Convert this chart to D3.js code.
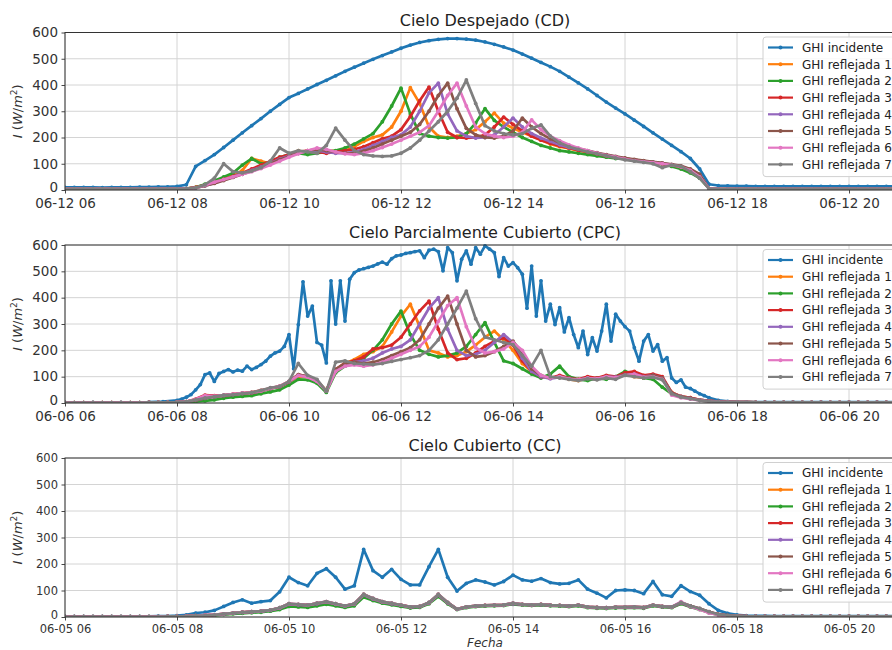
<!DOCTYPE html>
<html>
<head>
<meta charset="utf-8">
<script src="https://cdn.jsdelivr.net/npm/d3@7"></script>
<style>
  html, body { margin: 0; padding: 0; background: #fff; }
  svg { display: block; font-family: "DejaVu Sans", sans-serif; }
</style>
</head>
<body>
<svg id="chart" width="892" height="650"></svg>
<script>
// ---------------- DATA ----------------
const TITLES = ["Cielo Despejado (CD)", "Cielo Parcialmente Cubierto (CPC)", "Cielo Cubierto (CC)"];
const DATES = ["2022-06-12", "2022-06-06", "2022-06-05"];
const SERIES_NAMES = ["GHI incidente", "GHI reflejada 1", "GHI reflejada 2", "GHI reflejada 3",
  "GHI reflejada 4", "GHI reflejada 5", "GHI reflejada 6", "GHI reflejada 7"];
const COLORS = ["#1f77b4", "#ff7f0e", "#2ca02c", "#d62728", "#9467bd", "#8c564b", "#e377c2", "#7f7f7f"];
const Y_TICKS = [0, 100, 200, 300, 400, 500, 600];
const X_TICK_HOURS = ["06:00", "08:00", "10:00", "12:00", "14:00", "16:00", "18:00", "20:00"];
const X_DOMAIN = ["06:00", "21:00"];

// 10-minute sampling times (shared)
const TIMES = [
 "06:00","06:10","06:20","06:30","06:40","06:50",
 "07:00","07:10","07:20","07:30","07:40","07:50",
 "08:00","08:10","08:20","08:30","08:40","08:50",
 "09:00","09:10","09:20","09:30","09:40","09:50",
 "10:00","10:10","10:20","10:30","10:40","10:50",
 "11:00","11:10","11:20","11:30","11:40","11:50",
 "12:00","12:10","12:20","12:30","12:40","12:50",
 "13:00","13:10","13:20","13:30","13:40","13:50",
 "14:00","14:10","14:20","14:30","14:40","14:50",
 "15:00","15:10","15:20","15:30","15:40","15:50",
 "16:00","16:10","16:20","16:30","16:40","16:50",
 "17:00","17:10","17:20","17:30","17:40","17:50",
 "18:00","18:10","18:20","18:30","18:40","18:50",
 "19:00","19:10","19:20","19:30","19:40","19:50",
 "20:00","20:10","20:20","20:30","20:40","20:50",
 "21:00"];

// ---- Cielo Despejado (CD) ----
const cdIncidente = [
 10,10,10,10,9,10, 10,10,11,11,12,12,
 14,20,90,112,135,162, 190,218,245,272,300,326,
 352,368,385,402,418,435, 452,468,483,498,512,526,
 540,552,562,569,574,577, 577,575,571,564,555,545,
 533,518,502,486,470,452, 430,408,385,360,335,312,
 290,266,242,218,194,170, 146,120,80,22,17,16,
 15,15,14,14,14,14, 14,14,14,14,14,14, 14,14,14,14,14,14, 14];
const cdRef1 = [
 4,4,4,4,4,4, 4,4,4,4,4,4,
 4,5,10,20,30,42, 55,75,120,110,100,120,
 135,150,140,145,150,148, 150,165,185,200,210,240,
 300,390,330,240,205,200, 205,215,230,260,293,255,
 235,220,205,190,175,165, 158,150,145,138,130,125,
 120,115,110,105,100,95, 85,75,55,5,3,3,
 3,3,3,3,3,3, 3,3,3,3,3,3, 3,3,3,3,3,3, 3];
const cdRef2 = [
 4,4,4,4,4,4, 4,4,4,4,4,4,
 4,5,10,22,35,50, 65,95,120,100,105,125,
 135,140,135,140,145,150, 160,175,195,215,260,320,
 388,290,215,205,200,198, 200,215,255,310,265,240,
 220,200,185,170,160,150, 145,140,135,130,125,120,
 118,115,110,105,98,90, 80,65,45,5,3,3,
 3,3,3,3,3,3, 3,3,3,3,3,3, 3,3,3,3,3,3, 3];
const cdRef3 = [
 4,4,4,4,4,4, 4,4,4,4,4,4,
 4,5,10,18,28,40, 52,65,80,95,110,125,
 135,145,150,145,140,145, 150,155,165,180,195,205,
 230,280,340,392,300,220, 200,198,200,210,240,278,
 250,225,205,190,178,168, 160,152,145,138,130,125,
 120,115,110,105,100,95, 88,75,55,5,3,3,
 3,3,3,3,3,3, 3,3,3,3,3,3, 3,3,3,3,3,3, 3];
const cdRef4 = [
 4,4,4,4,4,4, 4,4,4,4,4,4,
 4,5,8,16,26,38, 50,62,75,88,102,118,
 130,140,148,150,145,140, 140,145,155,170,185,200,
 210,240,300,370,407,290, 225,205,198,200,210,240,
 274,240,215,198,185,172, 162,155,148,140,133,126,
 120,115,110,106,102,97, 90,78,58,5,3,3,
 3,3,3,3,3,3, 3,3,3,3,3,3, 3,3,3,3,3,3, 3];
const cdRef5 = [
 4,4,4,4,4,4, 4,4,4,4,4,4,
 4,5,8,16,25,36, 48,60,72,85,100,115,
 128,140,150,155,150,145, 140,140,148,160,175,190,
 205,220,250,300,360,407, 310,235,210,200,198,205,
 225,274,240,215,195,180, 168,158,150,142,135,128,
 122,117,112,107,103,98, 92,80,60,5,3,3,
 3,3,3,3,3,3, 3,3,3,3,3,3, 3,3,3,3,3,3, 3];
const cdRef6 = [
 4,4,4,4,4,4, 4,4,4,4,4,4,
 4,5,8,18,30,40, 50,60,70,82,95,110,
 125,138,150,160,155,145, 138,135,140,150,162,175,
 190,205,220,245,300,360, 407,320,240,215,205,200,
 205,220,267,230,205,188, 172,160,150,140,132,125,
 118,112,108,104,100,95, 88,75,50,5,3,3,
 3,3,3,3,3,3, 3,3,3,3,3,3, 3,3,3,3,3,3, 3];
const cdRef7 = [
 4,4,4,4,4,4, 4,4,4,4,4,4,
 4,5,8,20,45,100, 70,65,72,85,110,160,
 140,150,145,140,170,236, 190,150,135,130,128,130,
 140,160,190,225,260,300, 350,419,330,245,225,215,
 210,215,235,248,205,180, 165,155,145,138,130,122,
 115,110,105,100,85,95, 90,70,45,5,3,3,
 3,3,3,3,3,3, 3,3,3,3,3,3, 3,3,3,3,3,3, 3];

// ---- Cielo Parcialmente Cubierto (CPC) ----
const CPC_INC_TIMES = [
 "06:00","06:30","07:00","07:30","07:45",
 "08:00","08:05","08:10","08:15","08:20","08:25","08:30","08:35","08:40","08:45","08:50","08:55",
 "09:00","09:05","09:10","09:15","09:20","09:25","09:30","09:35","09:40","09:45","09:50","09:55",
 "10:00","10:05","10:10","10:15","10:20","10:25","10:30","10:35","10:40","10:45","10:50","10:55",
 "11:00","11:05","11:10","11:15","11:20","11:25","11:30","11:35","11:40","11:45","11:50","11:55",
 "12:00","12:05","12:10","12:15","12:20","12:25","12:30","12:35","12:40","12:45","12:50","12:55",
 "13:00","13:05","13:10","13:15","13:20","13:25","13:30","13:35","13:40","13:45","13:50","13:55",
 "14:00","14:05","14:10","14:15","14:20","14:25","14:30","14:35","14:40","14:45","14:50","14:55",
 "15:00","15:05","15:10","15:15","15:20","15:25","15:30","15:35","15:40","15:45","15:50","15:55",
 "16:00","16:05","16:10","16:15","16:20","16:25","16:30","16:35","16:40","16:45","16:50","16:55",
 "17:00","17:05","17:10","17:15","17:20","17:25","17:30",
 "17:40","17:50","18:00","18:30","19:00","19:30","20:00","20:30","21:00"];
const cpcIncidente = [
 2,2,2,3,5,
 10,15,22,32,50,70,108,114,82,112,120,127,
 118,125,121,140,127,135,146,159,178,190,197,215,
 260,130,298,460,330,368,230,220,152,464,300,464,
 311,470,495,505,510,515,520,528,535,527,548,559,
 562,568,571,575,578,552,580,584,575,502,590,571,
 464,546,578,527,590,565,597,584,571,480,552,520,
 533,514,489,360,520,330,464,311,375,298,362,270,
 324,260,210,273,184,248,197,273,375,235,337,311,
 290,273,210,159,235,260,197,222,159,172,95,78,
 88,60,55,45,35,28,20,
 10,6,4,3,3,3,3,3,3];
const cpcRef1 = [
 1,1,1,1,1,1, 1,1,1,2,2,2,
 3,5,12,22,25,28, 33,36,40,46,55,62,
 78,100,98,82,48,125, 150,165,185,195,215,270,
 330,375,290,200,190,175, 180,195,220,250,273,240,
 200,150,120,100,95,100, 90,85,95,90,100,95,
 110,100,95,105,95,40, 25,20,12,8,5,4,
 3,3,2,2,2,2, 2,2,2,2,2,2, 2,2,2,2,2,2, 2];
const cpcRef2 = [
 1,1,1,1,1,1, 1,1,1,2,2,2,
 2,3,5,8,12,18, 22,25,28,35,42,50,
 68,90,88,75,40,115, 140,150,170,200,240,300,
 349,260,200,185,175,180, 190,215,260,305,230,160,
 150,130,110,95,110,140, 100,90,85,95,90,100,
 120,110,95,90,60,35, 22,18,10,6,4,3,
 3,3,2,2,2,2, 2,2,2,2,2,2, 2,2,2,2,2,2, 2];
const cpcRef3 = [
 1,1,1,1,1,1, 1,1,1,2,2,2,
 3,5,15,30,28,30, 34,38,40,48,56,64,
 82,108,100,84,46,128, 152,160,175,205,210,220,
 250,300,350,387,280,190, 165,170,190,215,235,248,
 220,160,120,100,95,105, 95,90,100,95,105,100,
 115,120,105,110,100,40, 25,20,12,8,5,4,
 3,3,2,2,2,2, 2,2,2,2,2,2, 2,2,2,2,2,2, 2];
const cpcRef4 = [
 1,1,1,1,1,1, 1,1,1,2,2,2,
 3,5,10,18,24,28, 32,36,38,45,55,62,
 80,105,100,85,45,125, 148,155,160,170,190,205,
 215,240,300,360,400,280, 200,180,185,200,230,260,
 230,170,120,100,92,98, 92,88,95,92,100,98,
 108,110,100,105,95,38, 25,18,12,8,5,4,
 3,3,2,2,2,2, 2,2,2,2,2,2, 2,2,2,2,2,2, 2];
const cpcRef5 = [
 1,1,1,1,1,1, 1,1,1,2,2,2,
 3,5,10,18,24,28, 32,36,38,45,55,62,
 80,108,100,85,45,128, 150,155,150,155,165,180,
 195,210,240,300,360,406, 300,200,175,180,195,215,
 235,190,130,105,95,100, 95,88,95,92,100,96,
 108,105,98,105,95,38, 24,18,12,8,5,4,
 3,3,2,2,2,2, 2,2,2,2,2,2, 2,2,2,2,2,2, 2];
const cpcRef6 = [
 1,1,1,1,1,1, 1,1,1,2,2,2,
 3,5,14,28,26,30, 34,38,40,46,56,64,
 82,105,98,82,45,120, 140,145,140,145,155,170,
 185,200,215,250,310,370, 400,290,210,190,195,205,
 230,200,140,105,95,100, 92,88,95,92,100,96,
 105,110,98,100,90,30, 20,15,10,6,4,3,
 3,3,2,2,2,2, 2,2,2,2,2,2, 2,2,2,2,2,2, 2];
const cpcRef7 = [
 1,1,1,1,1,1, 1,1,1,2,2,2,
 3,5,12,19,24,30, 32,36,40,48,58,63,
 82,150,105,90,44,155, 160,150,148,146,150,158,
 165,172,180,200,240,300, 360,425,320,250,240,230,
 222,180,140,200,100,95, 90,85,92,88,95,90,
 105,100,95,98,88,35, 22,16,10,6,4,3,
 3,3,2,2,2,2, 2,2,2,2,2,2, 2,2,2,2,2,2, 2];

// ---- Cielo Cubierto (CC) ----
const ccIncidente = [
 2,2,2,2,2,2, 2,2,2,2,3,3,
 5,8,15,18,25,40, 55,65,52,58,62,95,
 150,130,118,165,182,150, 105,118,255,175,150,180,
 142,121,121,190,255,150, 98,127,140,132,121,134,
 158,140,135,145,130,125, 127,140,105,90,72,100,
 102,100,88,134,84,78, 118,96,82,50,25,14,
 8,5,4,4,3,3, 3,3,3,3,3,3, 3,3,3,3,3,3, 3];
const ccRef1 = [
 1,1,1,1,1,1, 1,1,1,1,1,2,
 2,3,5,6,8,11, 14,17,19,21,25,33,
 48,46,44,50,56,48, 41,48,82,68,56,50,
 44,37,39,53,82,53, 30,37,41,43,44,45,
 50,47,45,47,44,43, 41,44,37,35,34,36,
 36,37,35,44,39,37, 52,40,30,18,9,5,
 4,2,2,2,2,2, 2,2,2,2,2,2, 2,2,2,2,2,2, 2];
const ccRef2 = [
 1,1,1,1,1,1, 1,1,1,1,1,1,
 1,2,3,4,6,9, 12,14,16,18,22,28,
 40,38,36,42,48,42, 36,42,75,62,52,46,
 40,34,36,50,78,50, 28,35,39,41,42,43,
 48,45,43,45,42,41, 39,42,35,33,32,34,
 34,35,33,42,37,35, 50,38,28,16,8,4,
 3,2,2,2,2,2, 2,2,2,2,2,2, 2,2,2,2,2,2, 2];
const ccRef3 = [
 1,1,1,1,1,1, 1,1,1,1,1,2,
 2,3,5,6,8,12, 15,18,20,22,26,34,
 49,47,45,51,57,49, 42,49,84,69,57,51,
 45,38,40,54,84,54, 30,38,42,44,45,46,
 51,48,46,48,45,44, 42,45,38,36,35,37,
 37,38,36,45,40,38, 54,41,31,19,10,5,
 4,2,2,2,2,2, 2,2,2,2,2,2, 2,2,2,2,2,2, 2];
const ccRef4 = [
 1,1,1,1,1,1, 1,1,1,1,1,2,
 2,3,4,6,8,11, 14,17,19,21,25,33,
 48,46,44,50,56,48, 41,48,83,68,56,50,
 44,37,39,53,83,53, 29,37,41,43,44,45,
 50,47,45,47,44,43, 41,44,37,35,34,36,
 36,37,35,44,39,37, 53,40,30,18,9,5,
 4,2,2,2,2,2, 2,2,2,2,2,2, 2,2,2,2,2,2, 2];
const ccRef5 = [
 1,1,1,1,1,1, 1,1,1,1,1,2,
 2,3,5,6,8,12, 15,18,20,22,26,35,
 50,48,45,52,58,50, 42,50,86,70,58,52,
 45,38,40,55,86,55, 30,38,42,44,45,46,
 52,48,46,48,45,44, 42,45,38,36,35,37,
 37,38,36,45,40,38, 55,42,32,20,10,6,
 4,2,2,2,2,2, 2,2,2,2,2,2, 2,2,2,2,2,2, 2];
const ccRef6 = [
 1,1,1,1,1,1, 1,1,1,1,1,2,
 2,3,5,7,9,12, 15,18,20,22,26,35,
 50,48,45,52,58,50, 42,50,85,70,58,52,
 45,38,40,55,85,55, 30,38,42,44,45,46,
 52,48,46,48,45,44, 42,45,38,36,35,37,
 37,38,36,45,40,38, 58,40,28,15,8,4,
 3,2,2,2,2,2, 2,2,2,2,2,2, 2,2,2,2,2,2, 2];
const ccRef7 = [
 1,1,1,1,1,1, 1,1,1,1,1,2,
 2,3,5,6,8,12, 15,18,20,22,26,35,
 50,48,45,52,58,50, 42,50,85,70,58,52,
 45,38,40,55,85,55, 30,38,42,44,45,46,
 52,48,46,48,45,44, 42,45,38,36,35,37,
 37,38,36,45,40,38, 55,42,32,20,10,6,
 4,2,2,2,2,2, 2,2,2,2,2,2, 2,2,2,2,2,2, 2];

// ---------------- CHART ----------------
const parse = d3.timeParse("%Y-%m-%d %H:%M");
const svg = d3.select("#chart");
const LEFT = 65, RIGHT = 905;

const panels = [
  { title: TITLES[0], date: DATES[0], top: 32.5, bottom: 190, tickFont: 13.5,
    series: [[TIMES, cdIncidente], [TIMES, cdRef1], [TIMES, cdRef2], [TIMES, cdRef3],
             [TIMES, cdRef4], [TIMES, cdRef5], [TIMES, cdRef6], [TIMES, cdRef7]] },
  { title: TITLES[1], date: DATES[1], top: 245, bottom: 403, tickFont: 13.5,
    series: [[CPC_INC_TIMES, cpcIncidente], [TIMES, cpcRef1], [TIMES, cpcRef2], [TIMES, cpcRef3],
             [TIMES, cpcRef4], [TIMES, cpcRef5], [TIMES, cpcRef6], [TIMES, cpcRef7]] },
  { title: TITLES[2], date: DATES[2], top: 458, bottom: 617, tickFont: 11.5,
    series: [[TIMES, ccIncidente], [TIMES, ccRef1], [TIMES, ccRef2], [TIMES, ccRef3],
             [TIMES, ccRef4], [TIMES, ccRef5], [TIMES, ccRef6], [TIMES, ccRef7]] }
];

panels.forEach((p, pi) => {
  const x = d3.scaleTime()
    .domain(X_DOMAIN.map(t => parse(p.date + " " + t)))
    .range([LEFT, RIGHT]);
  const y = d3.scaleLinear().domain([0, 600]).range([p.bottom, p.top]);
  const g = svg.append("g");

  const clipId = "clip" + pi;
  svg.append("clipPath").attr("id", clipId)
    .append("rect").attr("x", LEFT).attr("y", p.top - 2)
    .attr("width", RIGHT - LEFT).attr("height", p.bottom - p.top + 2);

  const xTicks = X_TICK_HOURS.map(t => parse(p.date + " " + t));

  // grid
  g.append("g").selectAll("line").data(Y_TICKS).join("line")
    .attr("x1", LEFT).attr("x2", RIGHT)
    .attr("y1", d => y(d)).attr("y2", d => y(d))
    .attr("stroke", "#d4d4d4").attr("stroke-width", 1);
  g.append("g").selectAll("line").data(xTicks).join("line")
    .attr("x1", d => x(d)).attr("x2", d => x(d))
    .attr("y1", p.top).attr("y2", p.bottom)
    .attr("stroke", "#d4d4d4").attr("stroke-width", 1);

  // series
  const plot = g.append("g").attr("clip-path", `url(#${clipId})`);
  const line = d3.line().x(d => x(d.t)).y(d => y(d.v));
  p.series.forEach((s, si) => {
    const data = s[0].map((t, i) => ({ t: parse(p.date + " " + t), v: s[1][i] }));
    plot.append("path").datum(data)
      .attr("d", line).attr("fill", "none")
      .attr("stroke", COLORS[si]).attr("stroke-width", 2.7)
      .attr("stroke-linejoin", "round");
    plot.append("g").selectAll("circle").data(data).join("circle")
      .attr("cx", d => x(d.t)).attr("cy", d => y(d.v)).attr("r", 1.9)
      .attr("fill", COLORS[si]);
  });

  // axes
  const yAxis = d3.axisLeft(y).tickValues(Y_TICKS).tickSize(3.5).tickPadding(3.5);
  const gy = g.append("g").attr("transform", `translate(${LEFT},0)`).call(yAxis);
  const xAxis = d3.axisBottom(x).tickValues(xTicks).tickSize(3.5).tickPadding(4.5)
    .tickFormat(d3.timeFormat("%m-%d %H"));
  const gx = g.append("g").attr("transform", `translate(0,${p.bottom})`).call(xAxis);
  [gx, gy].forEach(a => {
    a.select(".domain").remove();
    a.selectAll(".tick line").attr("stroke", "#333").attr("stroke-width", 0.9);
    a.selectAll(".tick text").attr("fill", "#333")
      .style("font-family", "DejaVu Sans").style("font-size", p.tickFont + "px");
  });
  // first y label sits just above the x tick labels (as in the reference)
  gy.selectAll(".tick text").filter(d => d === 0).attr("dy", "0.12em");

  // spines
  g.append("rect").attr("x", LEFT).attr("y", p.top)
    .attr("width", RIGHT - LEFT).attr("height", p.bottom - p.top)
    .attr("fill", "none").attr("stroke", "#333").attr("stroke-width", 1);

  // title
  g.append("text").attr("x", (LEFT + RIGHT) / 2).attr("y", p.top - 7)
    .attr("text-anchor", "middle").attr("fill", "#222")
    .style("font-size", "16px").text(p.title);

  // y label
  const mid = (p.top + p.bottom) / 2;
  const yl = g.append("text").attr("transform", `translate(22,${mid}) rotate(-90)`)
    .attr("text-anchor", "middle").attr("fill", "#333").style("font-size", "13px");
  yl.append("tspan").style("font-style", "italic").text("I");
  yl.append("tspan").text(" (");
  yl.append("tspan").style("font-style", "italic").text("W");
  yl.append("tspan").text("/");
  yl.append("tspan").style("font-style", "italic").text("m");
  yl.append("tspan").attr("dy", -5).style("font-size", "9px").text("2");
  yl.append("tspan").attr("dy", 5).text(")");

  // legend
  const lx = 763, ly = p.top + 4.5, rowH = 16.7;
  const leg = g.append("g");
  leg.append("rect").attr("x", lx).attr("y", ly).attr("width", 138)
    .attr("height", rowH * SERIES_NAMES.length + 6).attr("rx", 3)
    .attr("fill", "#fff").attr("fill-opacity", 0.85)
    .attr("stroke", "#d0d0d0").attr("stroke-width", 1);
  SERIES_NAMES.forEach((name, i) => {
    const cy = p.top + 15 + i * rowH;
    leg.append("line").attr("x1", lx + 5).attr("x2", lx + 30)
      .attr("y1", cy).attr("y2", cy).attr("stroke", COLORS[i]).attr("stroke-width", 2.2);
    leg.append("circle").attr("cx", lx + 17.5).attr("cy", cy).attr("r", 2).attr("fill", COLORS[i]);
    leg.append("text").attr("x", lx + 39).attr("y", cy).attr("dy", "0.36em")
      .attr("fill", "#222").style("font-size", "12px").text(name);
  });
});

// x label
svg.append("text").attr("x", (LEFT + RIGHT) / 2).attr("y", 647)
  .attr("text-anchor", "middle").attr("fill", "#333")
  .style("font-size", "12px").style("font-style", "italic").text("Fecha");
</script>
</body>
</html>
